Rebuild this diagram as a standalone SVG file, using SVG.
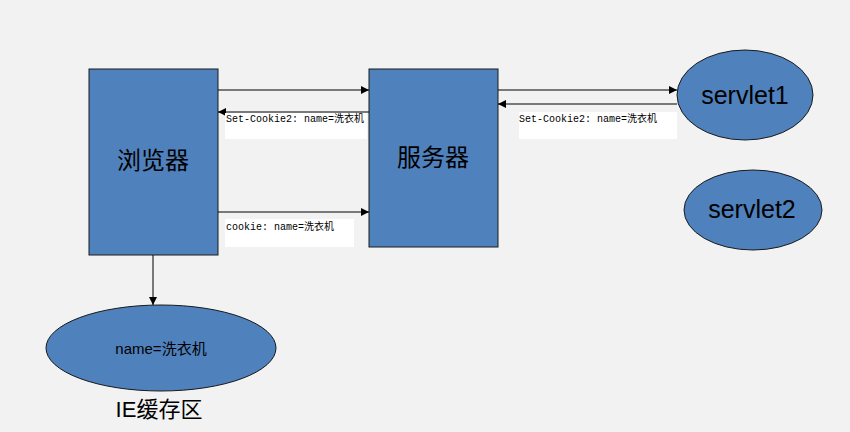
<svg xmlns="http://www.w3.org/2000/svg" width="850" height="432" viewBox="0 0 850 432">
<defs>
<marker id="ah" viewBox="0 0 10 10" refX="10" refY="5" markerWidth="8" markerHeight="8" markerUnits="userSpaceOnUse" orient="auto"><path d="M0,0 L10,5 L0,10 z" fill="#000"/></marker>
<style>
.shape{fill:#4f81bd;stroke:#1a1a1a;stroke-width:1}
.big{font-family:"Liberation Sans","Noto Sans CJK SC",sans-serif;fill:#000}
.mono{font-family:"Liberation Mono","Noto Sans CJK SC",monospace;font-size:10px;fill:#000}
.conn{stroke:#000;stroke-width:1;fill:none;marker-end:url(#ah)}
.lbl{fill:#fff}
</style>
</defs>
<rect width="850" height="432" fill="#f2f2f2"/>
<g id="browser"><rect class="shape" x="89" y="69" width="129" height="186"/><text class="big" x="153" y="169" font-size="24" text-anchor="middle">浏览器</text></g>
<g id="server"><rect class="shape" x="369" y="69" width="129" height="178"/><text class="big" x="433" y="166" font-size="24" text-anchor="middle">服务器</text></g>
<g id="servlet1"><ellipse class="shape" cx="745" cy="95" rx="68" ry="45"/><text class="big" x="745" y="104" font-size="25" text-anchor="middle">servlet1</text></g>
<g id="servlet2"><ellipse class="shape" cx="753" cy="210" rx="69" ry="40"/><text class="big" x="752" y="218" font-size="25" text-anchor="middle">servlet2</text></g>
<g id="ie"><ellipse class="shape" cx="161" cy="348" rx="115" ry="43"/><text class="big" x="161" y="354" font-size="15" text-anchor="middle">name=洗衣机</text><text class="big" x="159" y="417" font-size="22" text-anchor="middle" fill="#222">IE缓存区</text></g>
<g id="connectors">
<line class="conn" x1="218" y1="90" x2="369" y2="90"/>
<line class="conn" x1="369" y1="112" x2="218" y2="112"/>
<line class="conn" x1="218" y1="212" x2="369" y2="212"/>
<line class="conn" x1="498" y1="90" x2="677" y2="90"/>
<line class="conn" x1="677" y1="104" x2="498" y2="104"/>
<line class="conn" x1="153" y1="255" x2="153" y2="305"/>
</g>
<g id="labels">
<rect class="lbl" x="225" y="113" width="142" height="26"/>
<text class="mono" x="226" y="122">Set-Cookie2: name=洗衣机</text>
<rect class="lbl" x="225" y="219" width="129" height="28"/>
<text class="mono" x="226" y="230">cookie: name=洗衣机</text>
<rect class="lbl" x="519" y="112" width="158" height="27"/>
<text class="mono" x="519" y="122">Set-Cookie2: name=洗衣机</text>
</g>
</svg>
